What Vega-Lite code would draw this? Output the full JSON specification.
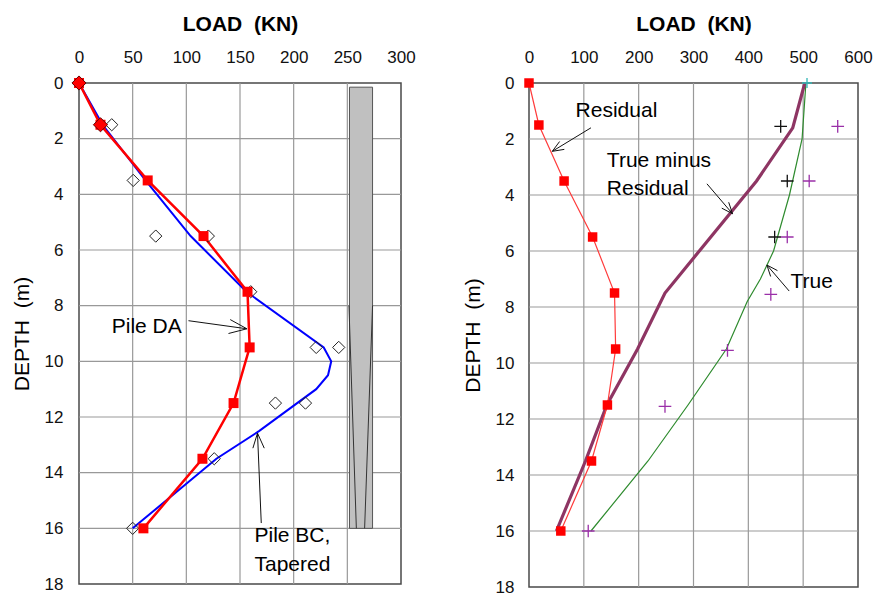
{
  "$schema": "https://vega.github.io/schema/vega-lite/v6.json",
  "padding": {"top": 12, "left": 10, "right": 5, "bottom": 5},
  "background": "white",
  "spacing": 45,
  "config": {
    "font": "Liberation Sans",
    "view": {"stroke": "#4a4a4a", "strokeWidth": 1.5},
    "axis": {
      "domain": false,
      "grid": false,
      "ticks": true,
      "zindex": 1,
      "tickWidth": 1.2,
      "labelFlush": false,
      "labelFont": "Liberation Sans",
      "labelFontSize": 17,
      "labelColor": "#111",
      "titleFont": "Liberation Sans",
      "titleFontSize": 21,
      "titleColor": "#000"
    }
  },
  "datasets": {
    "gridXL": [{"load": 50}, {"load": 100}, {"load": 150}, {"load": 200}, {"load": 250}],
    "gridXR": [{"load": 100}, {"load": 200}, {"load": 300}, {"load": 400}, {"load": 500}],
    "gridYL": [
      {"depth": 2, "load": 0}, {"depth": 2, "load": 300}, {"depth": 4, "load": 0}, {"depth": 4, "load": 300},
      {"depth": 6, "load": 0}, {"depth": 6, "load": 300}, {"depth": 8, "load": 0}, {"depth": 8, "load": 300},
      {"depth": 10, "load": 0}, {"depth": 10, "load": 300}, {"depth": 12, "load": 0}, {"depth": 12, "load": 300},
      {"depth": 14, "load": 0}, {"depth": 14, "load": 300}, {"depth": 16, "load": 0}, {"depth": 16, "load": 300}
    ],
    "gridYR": [
      {"depth": 2, "load": 0}, {"depth": 2, "load": 600}, {"depth": 4, "load": 0}, {"depth": 4, "load": 600},
      {"depth": 6, "load": 0}, {"depth": 6, "load": 600}, {"depth": 8, "load": 0}, {"depth": 8, "load": 600},
      {"depth": 10, "load": 0}, {"depth": 10, "load": 600}, {"depth": 12, "load": 0}, {"depth": 12, "load": 600},
      {"depth": 14, "load": 0}, {"depth": 14, "load": 600}, {"depth": 16, "load": 0}, {"depth": 16, "load": 600}
    ],
    "da": [
      {"depth": 0, "load": 0}, {"depth": 1.5, "load": 20}, {"depth": 3.5, "load": 64},
      {"depth": 5.5, "load": 116}, {"depth": 7.5, "load": 157}, {"depth": 9.5, "load": 159},
      {"depth": 11.5, "load": 144}, {"depth": 13.5, "load": 115}, {"depth": 16, "load": 60}
    ],
    "daDiamond": [{"depth": 0, "load": 0}, {"depth": 1.5, "load": 20}],
    "bcMeasured": [
      {"depth": 1.5, "load": 30.5}, {"depth": 3.5, "load": 50.5}, {"depth": 5.5, "load": 71.5},
      {"depth": 5.5, "load": 120.5}, {"depth": 7.5, "load": 160}, {"depth": 9.5, "load": 221},
      {"depth": 9.5, "load": 242}, {"depth": 11.5, "load": 183}, {"depth": 11.5, "load": 211},
      {"depth": 13.5, "load": 126}, {"depth": 16, "load": 50}
    ],
    "bcLine": [
      {"depth": 0, "load": 0}, {"depth": 1.5, "load": 22}, {"depth": 3.5, "load": 62},
      {"depth": 5.5, "load": 104}, {"depth": 7.5, "load": 156}, {"depth": 9.5, "load": 228},
      {"depth": 10, "load": 235}, {"depth": 10.5, "load": 232}, {"depth": 11, "load": 221},
      {"depth": 12.5, "load": 168}, {"depth": 13.5, "load": 128}, {"depth": 16, "load": 50}
    ],
    "pile": [{"load": 252, "load2": 273.5, "depth": 0.15, "depth2": 16}],
    "taper": [
      {"side": "L", "depth": 8, "load": 251.5}, {"side": "L", "depth": 16, "load": 258.4},
      {"side": "R", "depth": 8, "load": 273.5}, {"side": "R", "depth": 16, "load": 266.1}
    ],
    "arrowsL": [
      {"g": "a1s", "o": 0, "load": 102, "depth": 8.54}, {"g": "a1s", "o": 1, "load": 156.4, "depth": 8.83},
      {"g": "a1h", "o": 0, "load": 140.9, "depth": 8.5}, {"g": "a1h", "o": 1, "load": 156.4, "depth": 8.83}, {"g": "a1h", "o": 2, "load": 139.3, "depth": 9.0},
      {"g": "a2s", "o": 0, "load": 169.8, "depth": 15.81}, {"g": "a2s", "o": 1, "load": 166.3, "depth": 12.58},
      {"g": "a2h", "o": 0, "load": 162.0, "depth": 13.12}, {"g": "a2h", "o": 1, "load": 166.3, "depth": 12.58}, {"g": "a2h", "o": 2, "load": 172.6, "depth": 13.12}
    ],
    "textL": [
      {"t": "Pile DA", "load": 30.5, "depth": 8.78},
      {"t": "Pile BC,", "load": 163.5, "depth": 16.29},
      {"t": "Tapered", "load": 163.5, "depth": 17.3}
    ],
    "residual": [
      {"depth": 0, "load": 0}, {"depth": 1.5, "load": 18}, {"depth": 3.5, "load": 64},
      {"depth": 5.5, "load": 116}, {"depth": 7.5, "load": 156}, {"depth": 9.5, "load": 158},
      {"depth": 11.5, "load": 143}, {"depth": 13.5, "load": 114}, {"depth": 16, "load": 58}
    ],
    "trueMinus": [
      {"depth": 0, "load": 503}, {"depth": 1.6, "load": 481}, {"depth": 3.5, "load": 415},
      {"depth": 7.5, "load": 248}, {"depth": 9.5, "load": 198}, {"depth": 11.5, "load": 142},
      {"depth": 13.5, "load": 103}, {"depth": 16, "load": 50}
    ],
    "trueLoad": [
      {"depth": 0, "load": 505}, {"depth": 2, "load": 498}, {"depth": 4, "load": 475},
      {"depth": 6, "load": 446}, {"depth": 7, "load": 422}, {"depth": 7.8, "load": 398},
      {"depth": 9.5, "load": 360}, {"depth": 11.5, "load": 290}, {"depth": 13.5, "load": 217},
      {"depth": 16, "load": 113}
    ],
    "plusBlack": [{"depth": 1.55, "load": 459}, {"depth": 3.5, "load": 471}, {"depth": 5.5, "load": 448}],
    "plusPurple": [
      {"depth": 1.55, "load": 563}, {"depth": 3.5, "load": 511}, {"depth": 5.5, "load": 471},
      {"depth": 7.55, "load": 441}, {"depth": 9.55, "load": 362}, {"depth": 11.55, "load": 248},
      {"depth": 16, "load": 108}
    ],
    "plusTeal": [{"depth": 0, "load": 507}],
    "arrowsR": [
      {"g": "r1s", "o": 0, "load": 113, "depth": 1.6}, {"g": "r1s", "o": 1, "load": 42.5, "depth": 2.44},
      {"g": "r1h", "o": 0, "load": 64.4, "depth": 2.37}, {"g": "r1h", "o": 1, "load": 42.5, "depth": 2.44}, {"g": "r1h", "o": 2, "load": 55.8, "depth": 2.09},
      {"g": "r2s", "o": 0, "load": 324.5, "depth": 3.6}, {"g": "r2s", "o": 1, "load": 371.2, "depth": 4.67},
      {"g": "r2h", "o": 0, "load": 364.2, "depth": 4.26}, {"g": "r2h", "o": 1, "load": 371.2, "depth": 4.67}, {"g": "r2h", "o": 2, "load": 351.6, "depth": 4.47},
      {"g": "r3s", "o": 0, "load": 474.5, "depth": 7.43}, {"g": "r3s", "o": 1, "load": 433.8, "depth": 6.5},
      {"g": "r3h", "o": 0, "load": 440.7, "depth": 6.91}, {"g": "r3h", "o": 1, "load": 433.8, "depth": 6.5}, {"g": "r3h", "o": 2, "load": 453.1, "depth": 6.7}
    ],
    "textR": [
      {"t": "Residual", "load": 85, "depth": 1.0},
      {"t": "True minus", "load": 142, "depth": 2.77},
      {"t": "Residual", "load": 142, "depth": 3.78},
      {"t": "True", "load": 477, "depth": 7.09}
    ]
  },
  "hconcat": [
    {
      "width": 322,
      "height": 501,
      "layer": [
        {
          "data": {"name": "gridXL"},
          "mark": {"type": "rule", "color": "#999999", "strokeWidth": 1.2},
          "encoding": {
            "x": {
              "field": "load", "type": "quantitative",
              "scale": {"domain": [0, 300], "nice": false, "zero": false},
              "axis": {
                "orient": "top",
                "title": "LOAD\u00a0\u00a0(KN)",
                "titleFontWeight": "bold",
                "titlePadding": 14,
                "zindex": 1,
                "values": [0, 25, 50, 75, 100, 125, 150, 175, 200, 225, 250, 275, 300],
                "labelExpr": "datum.value % 50 === 0 ? datum.label : ''",
                "labelPadding": 24,
                "tickSize": -7,
                "tickColor": {"condition": {"test": "datum.value % 50 === 0", "value": "transparent"}, "value": "#333"}
              }
            }
          }
        },
        {
          "data": {"name": "gridYL"},
          "mark": {"type": "line", "color": "#999999", "strokeWidth": 1.2},
          "encoding": {
            "x": {"field": "load", "type": "quantitative"},
            "y": {
              "field": "depth", "type": "quantitative",
              "scale": {"domain": [0, 18], "reverse": true, "nice": false, "zero": false},
              "axis": {
                "title": "DEPTH\u00a0\u00a0(m)",
                "titleFontWeight": "normal",
                "titlePadding": 12,
                "zindex": 1,
                "values": [0, 1, 2, 3, 4, 5, 6, 7, 8, 9, 10, 11, 12, 13, 14, 15, 16, 17, 18],
                "labelExpr": "datum.value % 2 === 0 ? datum.label : ''",
                "labelPadding": 23,
                "tickSize": -7,
                "tickColor": {"condition": {"test": "datum.value % 2 === 0", "value": "transparent"}, "value": "#333"}
              }
            },
            "detail": {"field": "depth"},
            "order": {"field": "load"}
          }
        },
        {
          "data": {"name": "pile"},
          "mark": {"type": "rect", "fill": "#c0c0c0", "stroke": "#555", "strokeWidth": 1},
          "encoding": {
            "x": {"field": "load", "type": "quantitative"},
            "x2": {"field": "load2"},
            "y": {"field": "depth", "type": "quantitative"},
            "y2": {"field": "depth2"}
          }
        },
        {
          "data": {"name": "taper"},
          "mark": {"type": "line", "color": "#333", "strokeWidth": 1},
          "encoding": {
            "x": {"field": "load", "type": "quantitative"},
            "y": {"field": "depth", "type": "quantitative"},
            "detail": {"field": "side"},
            "order": {"field": "depth"}
          }
        },
        {
          "data": {"name": "bcLine"},
          "mark": {"type": "line", "color": "#0000ff", "strokeWidth": 2},
          "encoding": {
            "x": {"field": "load", "type": "quantitative"},
            "y": {"field": "depth", "type": "quantitative"},
            "order": {"field": "depth"}
          }
        },
        {
          "data": {"name": "da"},
          "mark": {"type": "line", "color": "#ff0000", "strokeWidth": 2.5},
          "encoding": {
            "x": {"field": "load", "type": "quantitative"},
            "y": {"field": "depth", "type": "quantitative"},
            "order": {"field": "depth"}
          }
        },
        {
          "data": {"name": "bcMeasured"},
          "mark": {"type": "point", "shape": "diamond", "filled": false, "color": "#222", "strokeWidth": 1, "size": 150, "opacity": 1},
          "encoding": {
            "x": {"field": "load", "type": "quantitative"},
            "y": {"field": "depth", "type": "quantitative"}
          }
        },
        {
          "data": {"name": "da"},
          "mark": {"type": "point", "shape": "square", "filled": true, "color": "#ff0000", "size": 100, "opacity": 1},
          "encoding": {
            "x": {"field": "load", "type": "quantitative"},
            "y": {"field": "depth", "type": "quantitative"}
          }
        },
        {
          "data": {"name": "daDiamond"},
          "mark": {"type": "point", "shape": "diamond", "filled": true, "fill": "#ff0000", "stroke": "#600", "strokeWidth": 1, "size": 200, "opacity": 1},
          "encoding": {
            "x": {"field": "load", "type": "quantitative"},
            "y": {"field": "depth", "type": "quantitative"}
          }
        },
        {
          "data": {"name": "arrowsL"},
          "mark": {"type": "line", "color": "#111", "strokeWidth": 1},
          "encoding": {
            "x": {"field": "load", "type": "quantitative"},
            "y": {"field": "depth", "type": "quantitative"},
            "detail": {"field": "g"},
            "order": {"field": "o"}
          }
        },
        {
          "data": {"name": "textL"},
          "mark": {"type": "text", "align": "left", "baseline": "middle", "fontSize": 21, "color": "#000", "font": "Liberation Sans"},
          "encoding": {
            "x": {"field": "load", "type": "quantitative"},
            "y": {"field": "depth", "type": "quantitative"},
            "text": {"field": "t"}
          }
        }
      ]
    },
    {
      "width": 329,
      "height": 504,
      "layer": [
        {
          "data": {"name": "gridXR"},
          "mark": {"type": "rule", "color": "#999999", "strokeWidth": 1.2},
          "encoding": {
            "x": {
              "field": "load", "type": "quantitative",
              "scale": {"domain": [0, 600], "nice": false, "zero": false},
              "axis": {
                "orient": "top",
                "title": "LOAD\u00a0\u00a0(KN)",
                "titleFontWeight": "bold",
                "titlePadding": 14,
                "zindex": 1,
                "values": [0, 50, 100, 150, 200, 250, 300, 350, 400, 450, 500, 550, 600],
                "labelExpr": "datum.value % 100 === 0 ? datum.label : ''",
                "labelPadding": 24,
                "tickSize": -7,
                "tickColor": {"condition": {"test": "datum.value % 100 === 0", "value": "transparent"}, "value": "#333"}
              }
            }
          }
        },
        {
          "data": {"name": "gridYR"},
          "mark": {"type": "line", "color": "#999999", "strokeWidth": 1.2},
          "encoding": {
            "x": {"field": "load", "type": "quantitative"},
            "y": {
              "field": "depth", "type": "quantitative",
              "scale": {"domain": [0, 18], "reverse": true, "nice": false, "zero": false},
              "axis": {
                "title": "DEPTH\u00a0\u00a0(m)",
                "titleFontWeight": "normal",
                "titlePadding": 12,
                "zindex": 1,
                "values": [0, 1, 2, 3, 4, 5, 6, 7, 8, 9, 10, 11, 12, 13, 14, 15, 16, 17, 18],
                "labelExpr": "datum.value % 2 === 0 ? datum.label : ''",
                "labelPadding": 22,
                "tickSize": -7,
                "tickColor": {"condition": {"test": "datum.value % 2 === 0", "value": "transparent"}, "value": "#333"}
              }
            },
            "detail": {"field": "depth"},
            "order": {"field": "load"}
          }
        },
        {
          "data": {"name": "trueLoad"},
          "mark": {"type": "line", "color": "#2e8b2e", "strokeWidth": 1.2},
          "encoding": {
            "x": {"field": "load", "type": "quantitative"},
            "y": {"field": "depth", "type": "quantitative"},
            "order": {"field": "depth"}
          }
        },
        {
          "data": {"name": "trueMinus"},
          "mark": {"type": "line", "color": "#8e3563", "strokeWidth": 3.2},
          "encoding": {
            "x": {"field": "load", "type": "quantitative"},
            "y": {"field": "depth", "type": "quantitative"},
            "order": {"field": "depth"}
          }
        },
        {
          "data": {"name": "residual"},
          "mark": {"type": "line", "color": "#ff3b3b", "strokeWidth": 1.2},
          "encoding": {
            "x": {"field": "load", "type": "quantitative"},
            "y": {"field": "depth", "type": "quantitative"},
            "order": {"field": "depth"}
          }
        },
        {
          "data": {"name": "residual"},
          "mark": {"type": "point", "shape": "square", "filled": true, "color": "#ff0000", "size": 90, "opacity": 1},
          "encoding": {
            "x": {"field": "load", "type": "quantitative"},
            "y": {"field": "depth", "type": "quantitative"}
          }
        },
        {
          "data": {"name": "plusBlack"},
          "mark": {"type": "point", "shape": "M-1,0L1,0M0,-1L0,1", "filled": false, "color": "#111", "strokeWidth": 1.3, "size": 160, "opacity": 1},
          "encoding": {
            "x": {"field": "load", "type": "quantitative"},
            "y": {"field": "depth", "type": "quantitative"}
          }
        },
        {
          "data": {"name": "plusPurple"},
          "mark": {"type": "point", "shape": "M-1,0L1,0M0,-1L0,1", "filled": false, "color": "#9a2fa8", "strokeWidth": 1.3, "size": 160, "opacity": 1},
          "encoding": {
            "x": {"field": "load", "type": "quantitative"},
            "y": {"field": "depth", "type": "quantitative"}
          }
        },
        {
          "data": {"name": "plusTeal"},
          "mark": {"type": "point", "shape": "M-1,0L1,0M0,-1L0,1", "filled": false, "color": "#33b5b5", "strokeWidth": 1.3, "size": 100, "opacity": 1},
          "encoding": {
            "x": {"field": "load", "type": "quantitative"},
            "y": {"field": "depth", "type": "quantitative"}
          }
        },
        {
          "data": {"name": "arrowsR"},
          "mark": {"type": "line", "color": "#111", "strokeWidth": 1},
          "encoding": {
            "x": {"field": "load", "type": "quantitative"},
            "y": {"field": "depth", "type": "quantitative"},
            "detail": {"field": "g"},
            "order": {"field": "o"}
          }
        },
        {
          "data": {"name": "textR"},
          "mark": {"type": "text", "align": "left", "baseline": "middle", "fontSize": 21, "color": "#000", "font": "Liberation Sans"},
          "encoding": {
            "x": {"field": "load", "type": "quantitative"},
            "y": {"field": "depth", "type": "quantitative"},
            "text": {"field": "t"}
          }
        }
      ]
    }
  ]
}
